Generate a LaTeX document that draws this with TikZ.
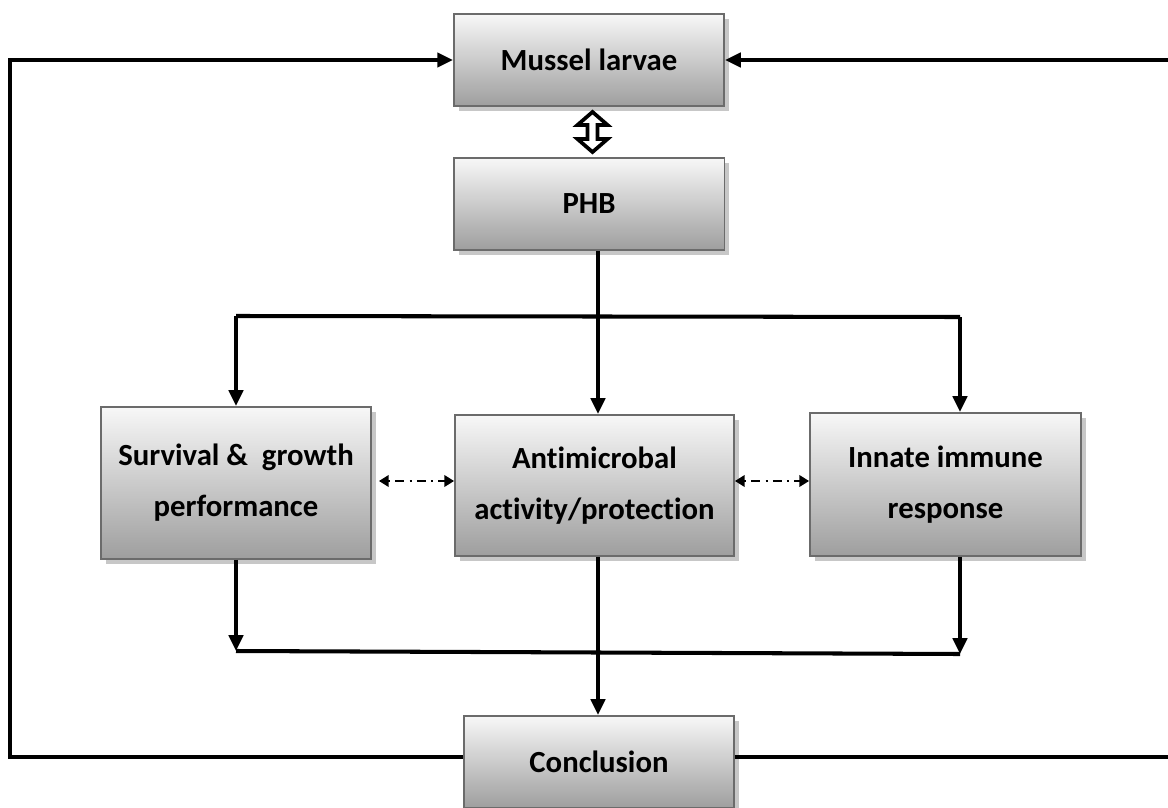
\documentclass[tikz,border=0pt]{standalone}
\usepackage{fontspec}
\setmainfont{Carlito}[Ligatures=NoCommon]
\usetikzlibrary{arrows.meta,calc,shadows}
\begin{document}
\begin{tikzpicture}[x=0.02cm,y=-0.02cm,
  box/.style={draw=black!58, line width=1.1pt, top color=white!97!black, bottom color=black!38,
    drop shadow={shadow xshift=0.1cm, shadow yshift=-0.1cm, fill=black!22, opacity=1},
    font=\bfseries\fontsize{17.5}{29}\selectfont, align=center, inner sep=0pt},
  conn/.style={line width=2.3pt, line cap=butt, line join=miter},
  tip/.tip={Triangle[length=9pt,width=8pt]},
  dd/.style={line width=1.2pt, dash pattern=on 1.2pt off 3pt on 5pt off 3pt,
    {Triangle[length=5.5pt,width=6.5pt]}-{Triangle[length=5.5pt,width=6.5pt]}}]
\useasboundingbox (0,0) rectangle (1168,807);
\clip (0,0) rectangle (1168,807);

\node[box, minimum width=5.4cm, minimum height=1.84cm] (ml) at (589,60) {Mussel larvae};
\node[box, minimum width=5.42cm, minimum height=1.84cm] (phb) at (589,204) {PHB};
\node[box, minimum width=5.4cm, minimum height=3.04cm] (surv) at (236,483) {Survival \&\ \ growth\\performance};
\node[box, minimum width=5.58cm, minimum height=2.82cm] (anti) at (594.5,485.5) {Antimicrobal\\activity/protection};
\node[box, minimum width=5.42cm, minimum height=2.86cm] (inn) at (945.5,484.5) {Innate immune\\response};
\node[box, minimum width=5.4cm, minimum height=1.84cm] (conc) at (599,762) {Conclusion};

% hollow double arrow
\coordinate (da) at ($(ml.south)+(3.5,5)$);
\coordinate (db) at ($(phb.north)+(3.5,-5)$);
\draw[line width=2.1pt, fill=white, line join=miter]
  (da) -- ++(15,13) -- ++(-10,0) -- ($(db)+(5,-13)$) -- ++(10,0) -- (db)
  -- ++(-15,-13) -- ++(10,0) -- ($(da)+(-5,13)$) -- ++(-10,0) -- cycle;

% PHB to distribution
\coordinate (c1) at (598,0);
\draw[conn,-tip] (phb.south -| c1) -- (anti.north -| c1);
\coordinate (dL) at (236,316);
\coordinate (dR) at (960,317);
\draw[conn] (dL) -- (dR);
\draw[conn,-tip] (dL) -- (surv.north);
\draw[conn,-tip] (dR) -- (dR |- inn.north);

% collection
\coordinate (bL) at (236,651);
\coordinate (bR) at (960,654);
\draw[conn,-tip] (surv.south) -- (bL);
\draw[conn] (bL) -- (bR);
\draw[conn,-tip] (dR |- inn.south) -- (bR);
\draw[conn,-tip] (anti.south -| c1) -- (conc.north -| c1);

% dash-dot links
\coordinate (m) at (0,481);
\draw[dd] ($(surv.east |- m)+(7,0)$) -- (anti.west |- m);
\draw[dd] (anti.east |- m) -- (inn.west |- m);

% feedback loops
\coordinate (cw) at ($(conc.west)+(0,-5)$);
\coordinate (ce) at ($(conc.east)+(0,-5)$);
\coordinate (lL) at (10,0);
\coordinate (rR) at (1175,0);
\draw[conn,-tip] (cw) -- (cw -| lL) |- (ml.west);
\draw[conn,-tip] (rR |- ml.east) -- (ml.east);
\draw[conn] (ce) -- (ce -| rR);
\end{tikzpicture}
\end{document}
